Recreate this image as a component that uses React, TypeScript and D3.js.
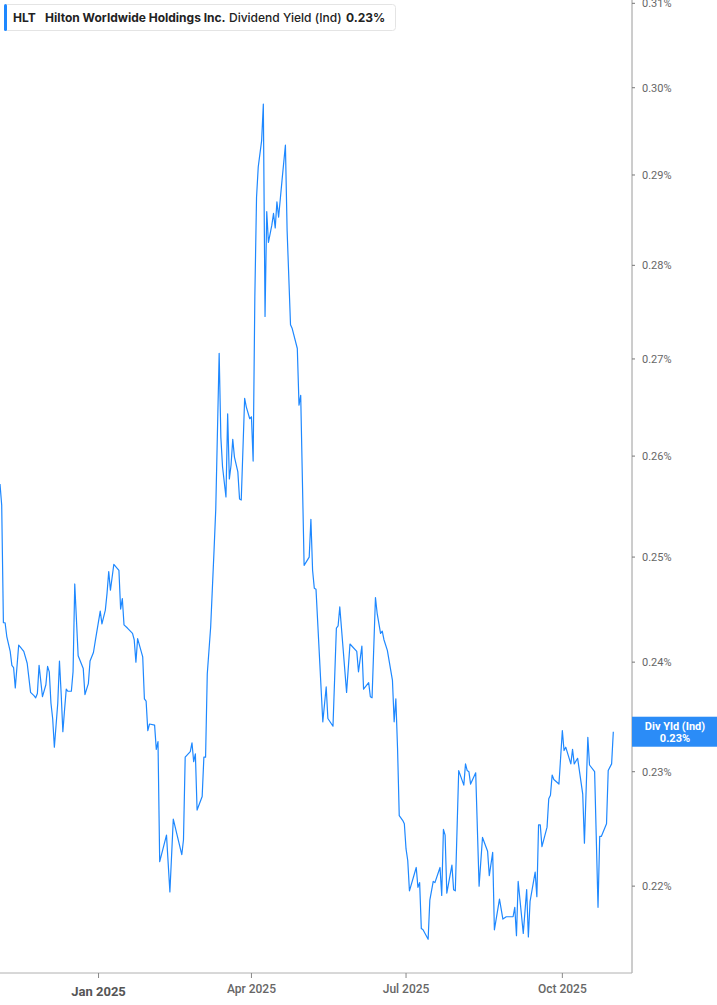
import React from 'react';
import * as d3 from 'd3';

// HLT indicated dividend yield (%)
const dates: string[] = [
  '2024-11-04', '2024-11-05', '2024-11-06', '2024-11-07', '2024-11-08', '2024-11-10', '2024-11-11', '2024-11-12',
  '2024-11-13', '2024-11-15', '2024-11-16', '2024-11-18', '2024-11-20', '2024-11-22', '2024-11-24', '2024-11-25',
  '2024-11-26', '2024-11-27', '2024-11-29', '2024-12-01', '2024-12-02', '2024-12-03', '2024-12-04', '2024-12-05',
  '2024-12-06', '2024-12-08', '2024-12-09', '2024-12-10', '2024-12-11', '2024-12-12', '2024-12-13', '2024-12-14',
  '2024-12-16', '2024-12-17', '2024-12-18', '2024-12-20', '2024-12-21', '2024-12-23', '2024-12-24', '2024-12-26',
  '2024-12-27', '2024-12-29', '2024-12-30', '2025-01-02', '2025-01-03', '2025-01-05', '2025-01-06', '2025-01-07',
  '2025-01-08', '2025-01-10', '2025-01-13', '2025-01-14', '2025-01-15', '2025-01-16', '2025-01-18', '2025-01-21',
  '2025-01-22', '2025-01-23', '2025-01-24', '2025-01-27', '2025-01-28', '2025-01-29', '2025-01-30', '2025-01-31',
  '2025-02-03', '2025-02-04', '2025-02-05', '2025-02-06', '2025-02-10', '2025-02-12', '2025-02-14', '2025-02-19',
  '2025-02-20', '2025-02-21', '2025-02-24', '2025-02-25', '2025-02-26', '2025-02-27', '2025-02-28', '2025-03-03',
  '2025-03-04', '2025-03-05', '2025-03-06', '2025-03-08', '2025-03-10', '2025-03-11', '2025-03-13', '2025-03-14',
  '2025-03-15', '2025-03-17', '2025-03-18', '2025-03-19', '2025-03-20', '2025-03-21', '2025-03-22', '2025-03-24',
  '2025-03-25', '2025-03-26', '2025-03-28', '2025-03-29', '2025-03-31', '2025-04-01', '2025-04-02', '2025-04-03',
  '2025-04-04', '2025-04-05', '2025-04-07', '2025-04-08', '2025-04-09', '2025-04-10', '2025-04-11', '2025-04-13',
  '2025-04-14', '2025-04-15', '2025-04-16', '2025-04-17', '2025-04-19', '2025-04-21', '2025-04-22', '2025-04-24',
  '2025-04-25', '2025-04-28', '2025-04-29', '2025-04-30', '2025-05-02', '2025-05-05', '2025-05-06', '2025-05-07',
  '2025-05-08', '2025-05-09', '2025-05-13', '2025-05-15', '2025-05-16', '2025-05-19', '2025-05-21', '2025-05-22',
  '2025-05-23', '2025-05-27', '2025-05-29', '2025-06-02', '2025-06-03', '2025-06-05', '2025-06-06', '2025-06-09',
  '2025-06-10', '2025-06-11', '2025-06-13', '2025-06-14', '2025-06-16', '2025-06-17', '2025-06-18', '2025-06-20',
  '2025-06-23', '2025-06-24', '2025-06-25', '2025-06-26', '2025-06-27', '2025-06-29', '2025-06-30', '2025-07-01',
  '2025-07-02', '2025-07-03', '2025-07-07', '2025-07-08', '2025-07-09', '2025-07-10', '2025-07-11', '2025-07-14',
  '2025-07-15', '2025-07-17', '2025-07-18', '2025-07-21', '2025-07-22', '2025-07-23', '2025-07-24', '2025-07-25',
  '2025-07-28', '2025-07-29', '2025-07-30', '2025-08-01', '2025-08-04', '2025-08-05', '2025-08-06', '2025-08-07',
  '2025-08-08', '2025-08-11', '2025-08-13', '2025-08-15', '2025-08-18', '2025-08-19', '2025-08-21', '2025-08-22',
  '2025-08-25', '2025-08-27', '2025-08-29', '2025-08-31', '2025-09-02', '2025-09-03', '2025-09-04', '2025-09-05',
  '2025-09-08', '2025-09-10', '2025-09-11', '2025-09-12', '2025-09-15', '2025-09-16', '2025-09-17', '2025-09-18',
  '2025-09-19', '2025-09-22', '2025-09-23', '2025-09-24', '2025-09-25', '2025-09-26', '2025-09-29', '2025-10-01',
  '2025-10-02', '2025-10-03', '2025-10-06', '2025-10-07', '2025-10-08', '2025-10-10', '2025-10-13', '2025-10-14',
  '2025-10-16', '2025-10-17', '2025-10-20', '2025-10-22', '2025-10-23', '2025-10-24', '2025-10-27', '2025-10-28',
  '2025-10-30', '2025-10-31',
];

const yields: number[] = [
  0.2572, 0.2551, 0.2437, 0.2437, 0.2424, 0.2410, 0.2397, 0.2395,
  0.2376, 0.2416, 0.2414, 0.2410, 0.2399, 0.2372, 0.2369, 0.2367,
  0.2371, 0.2397, 0.2368, 0.2379, 0.2396, 0.2391, 0.2362, 0.2348,
  0.2322, 0.2362, 0.2401, 0.2371, 0.2336, 0.2356, 0.2375, 0.2373,
  0.2373, 0.2391, 0.2474, 0.2406, 0.2402, 0.2394, 0.2370, 0.2380,
  0.2401, 0.2409, 0.2419, 0.2448, 0.2436, 0.2449, 0.2465, 0.2486,
  0.2468, 0.2493, 0.2487, 0.2450, 0.2460, 0.2435, 0.2432, 0.2427,
  0.2421, 0.2400, 0.2422, 0.2405, 0.2366, 0.2364, 0.2337, 0.2343,
  0.2342, 0.2320, 0.2327, 0.2221, 0.2244, 0.2195, 0.2258, 0.2227,
  0.2240, 0.2313, 0.2318, 0.2326, 0.2309, 0.2316, 0.2266, 0.2278,
  0.2313, 0.2313, 0.2389, 0.2433, 0.2507, 0.2547, 0.2706, 0.2619,
  0.2589, 0.2559, 0.2643, 0.2577, 0.2591, 0.2617, 0.2599, 0.2584,
  0.2557, 0.2556, 0.2659, 0.2650, 0.2638, 0.2640, 0.2595, 0.2766,
  0.2875, 0.2909, 0.2939, 0.2981, 0.2745, 0.2859, 0.2825, 0.2844,
  0.2857, 0.2841, 0.2870, 0.2853, 0.2894, 0.2934, 0.2838, 0.2736,
  0.2732, 0.2711, 0.2652, 0.2662, 0.2492, 0.2500, 0.2537, 0.2487,
  0.2470, 0.2469, 0.2345, 0.2377, 0.2348, 0.2341, 0.2432, 0.2434,
  0.2452, 0.2372, 0.2417, 0.2410, 0.2391, 0.2415, 0.2375, 0.2381,
  0.2368, 0.2367, 0.2461, 0.2446, 0.2427, 0.2429, 0.2421, 0.2411,
  0.2383, 0.2345, 0.2366, 0.2321, 0.2261, 0.2257, 0.2254, 0.2232,
  0.2222, 0.2196, 0.2216, 0.2199, 0.2203, 0.2164, 0.2163, 0.2155,
  0.2188, 0.2204, 0.2203, 0.2216, 0.2192, 0.2249, 0.2244, 0.2194,
  0.2218, 0.2197, 0.2196, 0.2301, 0.2288, 0.2307, 0.2301, 0.2300,
  0.2289, 0.2299, 0.2200, 0.2242, 0.2230, 0.2209, 0.2229, 0.2163,
  0.2189, 0.2172, 0.2174, 0.2174, 0.2174, 0.2182, 0.2158, 0.2204,
  0.2160, 0.2197, 0.2157, 0.2187, 0.2212, 0.2191, 0.2253, 0.2253,
  0.2234, 0.2251, 0.2276, 0.2279, 0.2297, 0.2293, 0.2289, 0.2337,
  0.2319, 0.2322, 0.2307, 0.2320, 0.2307, 0.2312, 0.2280, 0.2237,
  0.2331, 0.2306, 0.2300, 0.2182, 0.2243, 0.2243, 0.2254, 0.2301,
  0.2307, 0.2336,
];

const yTicks = [0.22, 0.23, 0.24, 0.25, 0.26, 0.27, 0.28, 0.29, 0.30, 0.31];
const xTickDates = ['2025-01-01', '2025-04-01', '2025-07-01', '2025-10-01'];
const xTickLabels = ['Jan 2025', 'Apr 2025', 'Jul 2025', 'Oct 2025'];
const xDomain = ['2024-11-04', '2025-11-11'];
const yDomain = [0.2127, 0.3104];

const W = 717;
const H = 1005;
const plotRight = 632;
const plotBottom = 973;
const lineColor = '#1e88ff';
const axisFont = 'Roboto, "Open Sans", sans-serif';

const parse = d3.timeParse('%Y-%m-%d');

export default function App() {
  const data = dates.map((d, i) => ({ date: parse(d) as Date, value: yields[i] }));

  const x = d3
    .scaleTime()
    .domain(xDomain.map((d) => parse(d) as Date))
    .range([0, plotRight]);

  // the price axis is logarithmic
  const y = d3.scaleLog().domain(yDomain).range([plotBottom, 0]);

  const line = d3
    .line<{ date: Date; value: number }>()
    .x((d) => x(d.date))
    .y((d) => y(d.value));

  const last = data[data.length - 1];
  const lastY = y(last.value);

  return (
    <div style={{ position: 'absolute', left: 0, top: 0 }}>
      <svg width={W} height={H} style={{ display: 'block', background: '#fff' }}>
        {/* axes frame */}
        <line x1={plotRight} x2={plotRight} y1={0} y2={plotBottom} stroke="#9a9a9a" strokeWidth={1} />
        <line x1={0} x2={plotRight} y1={plotBottom} y2={plotBottom} stroke="#b0b0b0" strokeWidth={1} />

        {/* y ticks */}
        {yTicks.map((t) => (
          <g key={t} transform={`translate(${plotRight},${y(t)})`}>
            <line x1={0} x2={3} stroke="#777" />
            <text x={10} dy="0.35em" fontSize={11} fill="#666" fontFamily={axisFont}>
              {d3.format('.2f')(t)}%
            </text>
          </g>
        ))}

        {/* x ticks */}
        {xTickDates.map((d, i) => {
          const px = x(parse(d) as Date);
          const first = i === 0;
          return (
            <g key={d} transform={`translate(${px},${plotBottom})`}>
              <line y1={0} y2={5} stroke="#888" />
              <text
                y={first ? 23 : 20}
                textAnchor="middle"
                fontSize={first ? 13 : 12}
                fontWeight={first ? 700 : 500}
                fill={first ? '#555' : '#666'}
                fontFamily={axisFont}
              >
                {xTickLabels[i]}
              </text>
            </g>
          );
        })}

        {/* series */}
        <path d={line(data) ?? ''} fill="none" stroke={lineColor} strokeWidth={1.2} strokeLinejoin="round" />

        {/* last value label */}
        <g transform={`translate(${plotRight},${lastY})`}>
          <rect x={0} y={-15} width={W - plotRight} height={30} fill="#2b8cf7" />
          <text x={43} y={-2} textAnchor="middle" fontSize={11} fontWeight={700} fill="#fff" fontFamily={axisFont}>
            Div Yld (Ind)
          </text>
          <text x={43} y={10} textAnchor="middle" fontSize={11} fontWeight={700} fill="#fff" fontFamily={axisFont}>
            {d3.format('.2f')(last.value)}%
          </text>
        </g>

        {/* legend */}
        <g transform="translate(4,4)">
          <rect x={0.5} y={0.5} width={391} height={26} rx={3} fill="#fff" stroke="#e4e4e4" />
          <rect x={0} y={0} width={3} height={27} rx={1.5} fill={lineColor} />
          <g fontFamily="Inter, Roboto, sans-serif" fontSize={12} fill="#222">
            <text x={9} y={17.5} fontWeight={700}>HLT</text>
            <text x={41} y={17.5} fontWeight={700}>Hilton Worldwide Holdings Inc.</text>
            <text x={225} y={17.5} fontWeight={500}>Dividend Yield (Ind)</text>
            <text x={342} y={17.5} fontWeight={700}>{d3.format('.2f')(last.value)}%</text>
          </g>
        </g>
      </svg>
    </div>
  );
}
